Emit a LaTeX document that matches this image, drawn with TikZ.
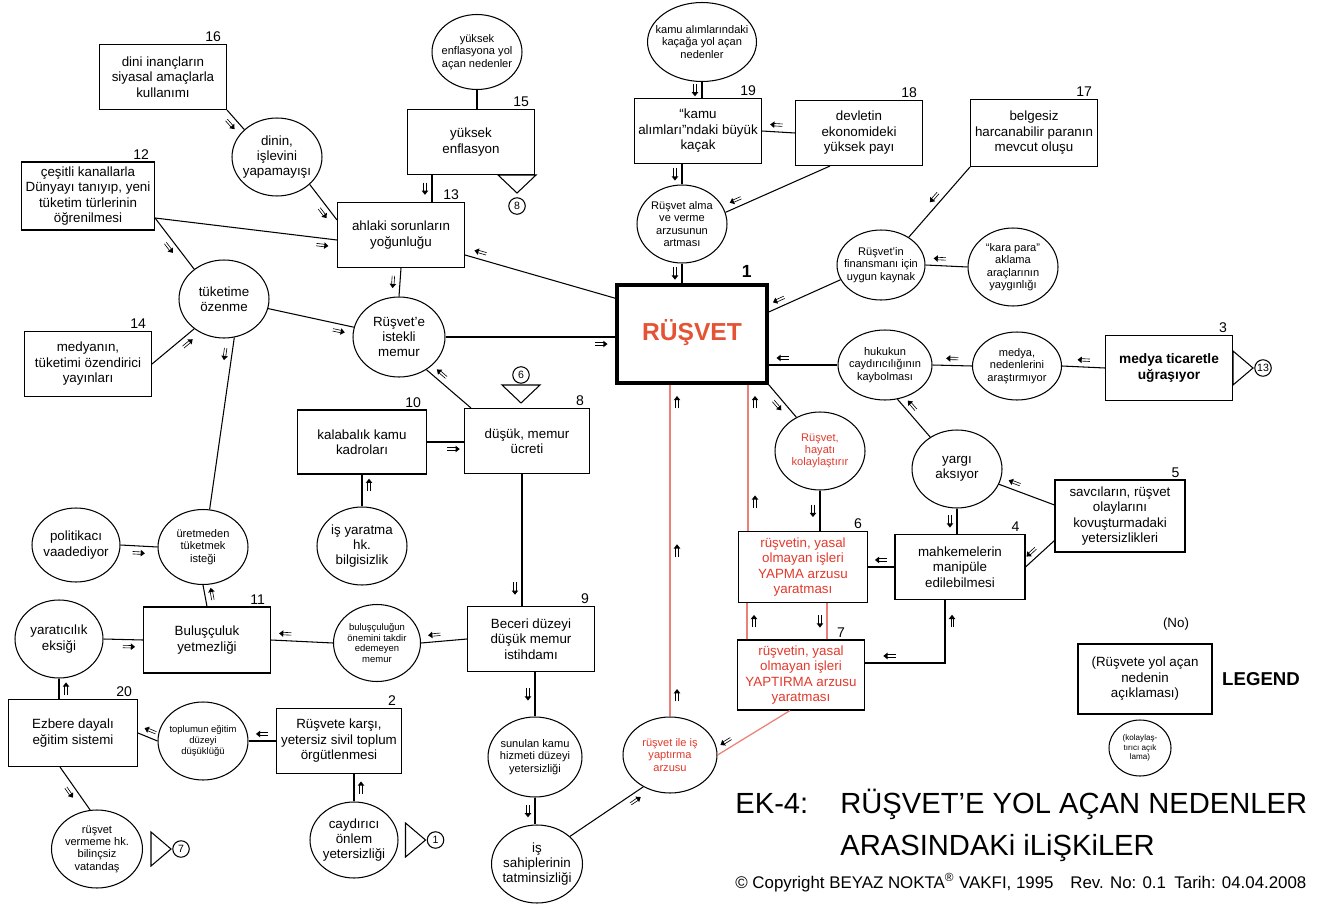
\documentclass[tikz,border=0pt]{standalone}
\usepackage{fontspec}
\setmainfont{Liberation Sans}
\usetikzlibrary{shapes.geometric,arrows.meta,decorations.markings}
\definecolor{rusred}{RGB}{228,84,52}
\definecolor{redtxt}{RGB}{226,58,44}
\definecolor{redline}{RGB}{236,128,118}
\newcommand{\eltx}[1]{\hbox to 0pt{\hss\vbox to 0pt{\vss\hsize=3cm\centering #1\par\vss}\hss}}
\newcommand{\mkglyph}{\draw[black,line width=0.35pt] (-3.4pt,-3.3pt) -- (1.6pt,-3.3pt) (-3.4pt,-4.7pt) -- (1.6pt,-4.7pt); \fill[black] (3.6pt,-4pt) -- (1.2pt,-5.9pt) -- (1.2pt,-2.1pt) -- cycle;}

\begin{document}
\begin{tikzpicture}[x=0.02cm,y=-0.02cm,
  box/.style={draw,line width=0.6pt,minimum width=2.54cm,minimum height=1.3cm,inner sep=1pt,align=center,font=\fontsize{7.6}{8.8}\selectfont},
  oval/.style={draw,ellipse,line width=0.6pt,minimum width=1.8cm,minimum height=1.56cm,inner sep=0pt,font=\fontsize{7.6}{8.6}\selectfont},
  sm/.style={font=\fontsize{6.3}{7}\selectfont},
  xs/.style={font=\fontsize{5.4}{6.2}\selectfont},
  redt/.style={text=redtxt},
  num/.style={font=\fontsize{8}{8}\selectfont,anchor=south east,inner sep=1pt,xshift=-0.08cm},
  nr/.style={label={[num]north east:#1}},
  ln/.style={line width=0.6pt},
  rl/.style={line width=0.7pt,draw=redline},
  opc/.style={draw,circle,line width=0.6pt,inner sep=0pt,minimum size=0.33cm,font=\fontsize{6}{6}\selectfont},
  mk/.style={postaction={decorate,decoration={markings,mark=at position #1 with {\mkglyph}}}},
  mkr/.style={postaction={decorate,decoration={markings,mark=at position #1 with {\begin{scope}[rotate=180]\mkglyph\end{scope}}}}},
  pics/offd/.style={code={\draw[line width=0.6pt] (-19,0) -- (19,0) -- (0,18) -- cycle; \node[opc] (-c) at (0,31) {#1};}},
  pics/offu/.style={code={\draw[line width=0.6pt] (-19,-18) -- (19,-18) -- (0,0) -- cycle; \node[opc] (-c) at (0,-28) {#1};}},
  pics/offr/.style={code={\draw[line width=0.6pt] (0,-17) -- (20,0) -- (0,17) -- cycle; \node[opc] (-c) at (30,0) {#1};}}
]
\fill[white] (0,0) rectangle (1332,909);
\useasboundingbox (0,0) rectangle (1332,909);

\node[box,nr=16] (b16) at (163,77) {dini inançların\\siyasal amaçlarla\\kullanımı};
\node[oval] (dinin) at (277,157) {\eltx{dinin,\\işlevini\\yapamayışı}};
\node[box,nr=12,minimum width=2.66cm,minimum height=1.36cm] (b12) at (88,196) {çeşitli kanallarla\\Dünyayı tanıyıp, yeni\\tüketim türlerinin\\öğrenilmesi};
\node[box,nr=13] (b13) at (401,235) {ahlaki sorunların\\yoğunluğu};
\node[box,nr=15] (b15) at (471,142) {yüksek\\enflasyon};
\node[oval,sm,minimum height=1.5cm] (enf) at (477,52) {\eltx{yüksek\\enflasyona yol\\açan nedenler}};
\node[oval,sm,minimum width=2.18cm,minimum height=1.58cm] (kacak) at (702,42) {\eltx{kamu alımlarındaki\\kaçağa yol açan\\nedenler}};
\node[box,nr=19] (b19) at (698,131) {“kamu\\alımları”ndaki büyük\\kaçak};
\node[box,nr=18] (b18) at (859,133) {devletin\\ekonomideki\\yüksek payı};
\node[oval,sm] (arzu) at (682,224) {\eltx{Rüşvet alma\\ve verme\\arzusunun\\artması}};
\node[box,line width=2pt,minimum width=3cm,minimum height=1.96cm,text=rusred,font=\bfseries\fontsize{14}{14}\selectfont,label={[num,font=\bfseries\fontsize{10}{10}\selectfont,xshift=-0.22cm,yshift=0.08cm]north east:1}] (b1) at (692,334) {\raisebox{5pt}{RÜŞVET}};
\node[oval,sm,minimum width=1.76cm,minimum height=1.4cm] (finans) at (881,265) {\eltx{Rüşvet'in\\finansmanı için\\uygun kaynak}};
\node[box,nr=17,minimum height=1.34cm] (b17) at (1034,133) {belgesiz\\harcanabilir paranın\\mevcut oluşu};
\node[oval,sm] (kara) at (1013,267) {\eltx{“kara para”\\aklama\\araçlarının\\yaygınlığı}};
\node[oval,sm,minimum width=1.78cm,minimum height=1.36cm] (medya) at (1017,366) {\eltx{medya,\\nedenlerini\\araştırmıyor}};
\node[box,nr=3,font=\bfseries\fontsize{7.8}{9}\selectfont] (b3) at (1169,368) {medya ticaretle\\uğraşıyor};
\node[oval,sm,minimum width=1.88cm,minimum height=1.4cm] (hukuk) at (885,365) {\eltx{hukukun\\caydırıcılığının\\kaybolması}};
\node[oval] (yargi) at (957,469) {\eltx{yargı\\aksıyor}};
\node[box,nr=5,minimum width=2.6cm,minimum height=1.44cm] (b5) at (1120,516) {savcıların, rüşvet\\olaylarını\\kovuşturmadaki\\yetersizlikleri};
\node[box,nr=4,minimum width=2.6cm] (b4) at (960,567) {mahkemelerin\\manipüle\\edilebilmesi};
\node[oval,sm,redt] (hayat) at (820,451) {\eltx{Rüşvet,\\hayatı\\kolaylaştırır}};
\node[box,nr=6,redt,minimum width=2.58cm,minimum height=1.42cm] (b6) at (803,567) {rüşvetin, yasal\\olmayan işleri\\YAPMA arzusu\\yaratması};
\node[box,redt,minimum height=1.4cm,label={[num,xshift=-0.28cm]north east:7}] (b7) at (801,675) {rüşvetin, yasal\\olmayan işleri\\YAPTIRMA arzusu\\yaratması};
\node[oval,sm,redt,minimum width=1.88cm,minimum height=1.52cm] (isyap) at (670,755) {\eltx{rüşvet ile iş\\yaptırma\\arzusu}};
\node[box,nr=9] (b9) at (531,639) {Beceri düzeyi\\düşük memur\\istihdamı};
\node[oval,sm,minimum width=1.88cm,minimum height=1.6cm] (sunulan) at (535,757) {\eltx{sunulan kamu\\hizmeti düzeyi\\yetersizliği}};
\node[oval,minimum width=1.82cm] (sahip) at (537,864) {\eltx{iş\\sahiplerinin\\tatminsizliği}};
\node[box,nr=8,minimum width=2.5cm] (b8) at (527,441) {düşük, memur\\ücreti};
\node[box,nr=10,minimum width=2.58cm,minimum height=1.28cm] (b10) at (362,442) {kalabalık kamu\\kadroları};
\node[oval] (isyarat) at (362,546) {\eltx{iş yaratma\\hk.\\bilgisizlik}};
\node[oval,minimum width=1.84cm,minimum height=1.6cm] (istekli) at (399,337) {\eltx{Rüşvet'e\\istekli\\memur}};
\node[oval] (tuketim) at (224,299) {\eltx{tüketime\\özenme}};
\node[box,nr=14] (b14) at (88,364) {medyanın,\\tüketimi özendirici\\yayınları};
\node[oval,minimum width=1.76cm,minimum height=1.48cm] (politik) at (76,545) {\eltx{politikacı\\vaadediyor}};
\node[oval,sm,minimum height=1.5cm] (uretmeden) at (203,547) {\eltx{üretmeden\\tüketmek\\isteği}};
\node[box,nr=11,minimum height=1.32cm] (b11) at (207,640) {Buluşçuluk\\yetmezliği};
\node[oval,minimum width=1.76cm] (yaratici) at (59,639) {\eltx{yaratıcılık\\eksiği}};
\node[oval,xs,minimum width=1.74cm,minimum height=1.54cm] (bulus) at (377,643) {\eltx{buluşçuluğun\\önemini takdir\\edemeyen\\memur}};
\node[box,nr=20,minimum width=2.58cm,minimum height=1.34cm] (b20) at (73,733) {Ezbere dayalı\\eğitim sistemi};
\node[oval,xs] (toplum) at (203,741) {\eltx{toplumun eğitim\\düzeyi\\düşüklüğü}};
\node[box,nr=2,minimum width=2.5cm] (b2) at (339,741) {Rüşvete karşı,\\yetersiz sivil toplum\\örgütlenmesi};
\node[oval,minimum width=1.76cm,minimum height=1.52cm] (caydir) at (354,840) {\eltx{caydırıcı\\önlem\\yetersizliği}};
\node[oval,sm,minimum width=1.82cm] (vatandas) at (97,849) {\eltx{rüşvet\\vermeme hk.\\bilinçsiz\\vatandaş}};

\node[box,minimum width=2.68cm,minimum height=1.4cm] (lg) at (1145,679) {(Rüşvete yol açan\\nedenin\\açıklaması)};
\node[font=\fontsize{7.6}{8}\selectfont] (no) at (1176,624) {(No)};
\node[font=\bfseries\fontsize{10.6}{12}\selectfont] (lgt) at (1261,679) {LEGEND};
\node[oval,font=\fontsize{4.6}{5.2}\selectfont,minimum width=1.24cm,minimum height=1.12cm] (lgo) at (1140,748) {\eltx{(kolaylaş-\\tırıcı açık\\lama)}};

\node[anchor=base west,inner sep=0pt,font=\fontsize{16.6}{20}\selectfont] (ek) at (735,813) {EK-4:};
\node[anchor=base west,inner sep=0pt,font=\fontsize{16.6}{20}\selectfont] (t1) at (840,813) {RÜŞVET'E YOL AÇAN NEDENLER};
\node[anchor=base west,inner sep=0pt,font=\fontsize{16.6}{20}\selectfont] (t2) at (840,855) {ARASINDAKi iLiŞKiLER};
\node[anchor=base west,inner sep=0pt,font=\fontsize{9.6}{10}\selectfont] (copy) at (735,888) {© Copyright BEYAZ NOKTA\textsuperscript{®} VAKFI, 1995\quad Rev. No: 0.1\enspace Tarih: 04.04.2008};

\pic (p15) at ([xshift=-0.36cm]b15.south east) {offd=8};
\pic (p8) at ([xshift=-0.12cm,yshift=0.1cm]b8.north) {offu=6};
\pic (p3) at (b3.east) {offr=13};
\pic (pv) at ([xshift=0.16cm]vatandas.east) {offr=7};
\pic (pc) at ([xshift=0.14cm]caydir.east) {offr=1};

\coordinate (c15) at ([xshift=-0.78cm]b15.south);
\coordinate (c8) at ([xshift=-0.1cm]b8.south);
\coordinate (c6) at ([xshift=0.2cm]b6.north west);
\coordinate (c7a) at ([xshift=0.2cm]b7.north west);
\coordinate (c7b) at ([xshift=1.8cm]b7.north west);
\coordinate (c4) at ([xshift=-0.3cm]b4.south);

\draw[ln,mk=0.5] (b16.south east) -- (dinin.140);
\draw[ln,mk=-8pt] (dinin.-40) -- ([yshift=0.3cm]b13.west);
\draw[ln,mk=-8pt] ([yshift=-0.44cm]b12.east) -- ([yshift=-0.1cm]b13.west);
\draw[ln,mk=0.5] ([yshift=-0.44cm]b12.east) -- (tuketim.135);
\draw[ln,mk=-8pt] (b14.east) -- (tuketim.-135);
\draw[ln,mk=10pt] (tuketim.-75) -- (uretmeden.80);
\draw[ln,mk=-8pt] (tuketim) -- (istekli);
\draw[ln,mk=0.5] (b13.south) -- (istekli.north);
\draw[ln,mk=-8pt] ([yshift=-0.3cm]b1.north west) -- ([yshift=-0.4cm]b13.east);
\draw[ln,mk=0.5] (c15) -- (c15 |- b13.north);
\draw[ln] (enf.south) -- (enf.south |- b15.north);
\draw[ln,mk=-8pt] (istekli.east) -- (istekli.east -| b1.west);
\draw[ln,mk=-8pt] ([xshift=0.14cm]b8.north west) -- (istekli.-50);
\draw[ln,mk=-6pt] (b10.east) -- (b10.east -| b8.west);
\draw[ln,mk=-6pt] (isyarat.north) -- (isyarat.north |- b10.south);
\draw[ln,mk=-10pt] (c8) -- (c8 |- b9.north);
\draw[ln,mk=-8pt] (b9.west) -- (bulus.east);
\draw[ln,mk=-8pt] (bulus.west) -- (b11.east);
\draw[ln,mk=-8pt] (yaratici.east) -- (b11.west);
\draw[ln,mk=-6pt] (b11.north) -- (uretmeden.south);
\draw[ln,mk=0.5] (politik.east) -- (uretmeden.west);
\draw[ln,mk=0.5] (yaratici.south |- b20.north) -- (yaratici.south);
\draw[ln,mk=0.5] (toplum.west) -- (b20.east);
\draw[ln,mk=0.5] (b2.west) -- (toplum.east);
\draw[ln,mk=0.5] (caydir.north) -- (caydir.north |- b2.south);
\draw[ln,mk=0.5] ([xshift=-0.26cm]b20.south) -- (vatandas.100);
\draw[ln,mk=0.5] (sunulan.north |- b9.south) -- (sunulan.north);
\draw[ln,mk=0.5] (sunulan.south) -- (sunulan.south |- sahip.north);
\draw[ln,mk=-8pt] (sahip.40) -- (isyap.-130);
\draw[rl,mk=12pt,mk=0.5,mk=-10pt] (isyap.north) -- (isyap.north |- b1.south);
\draw[rl,mk=0.2,mk=-10pt] (c6) -- (c6 |- b1.south);
\draw[rl,mk=0.5] (c7a) -- (c7a |- b6.south);
\draw[rl,mk=0.5] (c7b |- b6.south) -- (c7b);
\draw[rl,mk=-8pt] ([xshift=-0.22cm]b7.south) -- (isyap.east);
\draw[ln,mkr=12pt,mk=-14pt] (c4) |- ([yshift=0.24cm]b7.east);
\draw[ln,mk=0.5] (b4.west) -- (b6.east);
\draw[ln,mk=0.5] (yargi.south) -- (yargi.south |- b4.north);
\draw[ln,mk=-8pt] ([yshift=0.24cm]b5.south west) -- (b4.east);
\draw[ln,mk=-8pt] ([yshift=0.22cm]b5.west) -- (yargi.-20);
\draw[ln,mk=-8pt] (yargi.130) -- (hukuk.-70);
\draw[ln,mk=0.5] (medya.west) -- (hukuk.east);
\draw[ln,mk=0.5] (b3.west) -- (medya.east);
\draw[ln,mk=-8pt] (hukuk.west) -- (hukuk.west -| b1.east);
\draw[ln,mk=0.5] (b1.south east) -- (hayat.125);
\draw[ln,mk=0.5] (hayat.south) -- (hayat.south |- b6.north);
\draw[ln,mk=-8pt] (finans.200) -- ([yshift=0.44cm]b1.east);
\draw[ln,mk=0.5] (b17.south west) -- (finans.45);
\draw[ln,mk=-8pt] (kara.west) -- (finans.east);
\draw[ln,mk=0.5] (arzu.south) -- (arzu.south |- b1.north);
\draw[ln,mk=0.5] (arzu.north |- b19.south) -- (arzu.north);
\draw[ln,mk=-8pt] ([xshift=-0.58cm]b18.south) -- (arzu.15);
\draw[ln,mk=-8pt] (b18.west) -- (b19.east);
\draw[ln,mk=0.5] (kacak.south) -- (kacak.south |- b19.north);
\end{tikzpicture}
\end{document}
